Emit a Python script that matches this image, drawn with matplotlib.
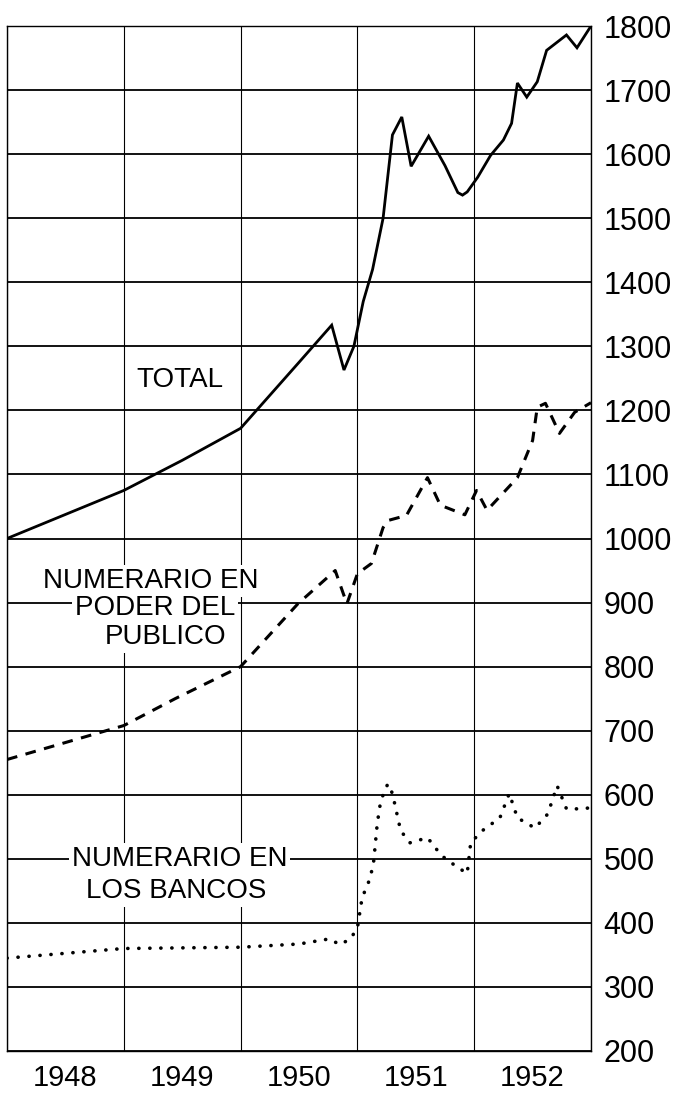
import matplotlib
matplotlib.use("Agg")
import matplotlib.pyplot as plt
from matplotlib.ticker import FixedLocator, NullFormatter, FixedFormatter

# ---- data ----
total_x = [1948.0, 1949.0, 1949.5, 1950.0, 1950.5, 1950.78, 1950.885, 1950.97, 1951.05,
           1951.13, 1951.22, 1951.30, 1951.38, 1951.46, 1951.61, 1951.75, 1951.86, 1951.90,
           1951.94, 1952.03, 1952.14, 1952.25, 1952.32, 1952.37, 1952.45, 1952.54, 1952.62,
           1952.79, 1952.88, 1953.0]
total_y = [1000, 1075, 1122, 1172, 1275, 1333, 1263, 1300, 1370,
           1420, 1500, 1630, 1658, 1581, 1628, 1582, 1540, 1536,
           1541, 1564, 1598, 1622, 1648, 1711, 1689, 1713, 1762,
           1786, 1766, 1800]

pub_x = [1948.0, 1949.0, 1949.44, 1950.0, 1950.49, 1950.81, 1950.91, 1951.0, 1951.12,
         1951.22, 1951.26, 1951.42, 1951.60, 1951.71, 1951.92, 1952.02, 1952.11, 1952.37,
         1952.50, 1952.54, 1952.61, 1952.73, 1952.86, 1953.0]
pub_y = [655, 708, 750, 800, 898, 950, 898, 945, 961,
         1017, 1028, 1036, 1095, 1052, 1037, 1075, 1044, 1095,
         1153, 1205, 1211, 1164, 1197, 1212]

ban_x = [1948.0, 1949.0, 1950.0, 1950.5, 1950.76, 1950.85, 1950.94, 1951.0, 1951.04,
         1951.11, 1951.14, 1951.17, 1951.2, 1951.26, 1951.3, 1951.37, 1951.45, 1951.6,
         1951.72, 1951.84, 1951.94, 1951.97, 1952.07, 1952.22, 1952.30, 1952.37, 1952.52,
         1952.63, 1952.71, 1952.79, 1952.93, 1953.0]
ban_y = [345, 360, 362, 367, 375, 366, 375, 392, 439,
         470, 497, 555, 591, 617, 602, 544, 525, 533,
         505, 489, 477, 525, 544, 564, 602, 564, 548,
         570, 614, 578, 578, 580]

year_labels = ["1948", "1949", "1950", "1951", "1952"]
year_starts = [1948, 1949, 1950, 1951, 1952, 1953]
y_ticks = [200, 300, 400, 500, 600, 700, 800, 900, 1000, 1100, 1200,
           1300, 1400, 1500, 1600, 1700, 1800]

# ---- figure ----
fig = plt.figure(figsize=(6.83, 10.98), dpi=100)
ax = fig.add_axes([7/683, 1 - 1051/1098, (591 - 7)/683, (1051 - 26)/1098])
ax.set_xlim(1948, 1953)
ax.set_ylim(200, 1800)

for v in y_ticks:
    ax.axhline(v, color="black", lw=1.3, zorder=1)
for yr in year_starts:
    ax.axvline(yr, color="black", lw=0.8, zorder=1)

for s in ax.spines.values():
    s.set_linewidth(1.0)

ax.plot(total_x, total_y, color="black", lw=2.0, zorder=3, solid_joinstyle="miter")
ax.plot(pub_x, pub_y, color="black", lw=2.2, linestyle=(0, (3.5, 2.8)), zorder=3)
ax.plot(ban_x, ban_y, color="black", lw=2.6, linestyle=(0, (0.05, 3.0)),
        dash_capstyle="round", zorder=3)

# ticks
ax.yaxis.tick_right()
ax.set_yticks(y_ticks)
ax.set_yticklabels([str(v) for v in y_ticks], family="Liberation Sans", fontsize=22)
ax.tick_params(axis="y", length=0, pad=9)

ax.xaxis.set_major_locator(FixedLocator(year_starts))
ax.xaxis.set_major_formatter(NullFormatter())
ax.xaxis.set_minor_locator(FixedLocator([y + 0.5 for y in year_starts[:-1]]))
ax.xaxis.set_minor_formatter(FixedFormatter(year_labels))
ax.tick_params(axis="x", which="both", length=0)
ax.tick_params(axis="x", which="minor", pad=9)
for lbl in ax.xaxis.get_minorticklabels():
    lbl.set_family("Liberation Sans")
    lbl.set_fontsize(21)

# labels
tkw = dict(family="Liberation Sans", fontsize=20, ha="center", va="center", zorder=4)
box = dict(facecolor="white", edgecolor="none", pad=2)
ax.text(1949.48, 1247, "TOTAL", **tkw)
ax.text(1949.23, 934, "NUMERARIO EN", bbox=box, **tkw)
ax.text(1949.27, 892, "PODER DEL", bbox=box, **tkw)
ax.text(1949.36, 846, "PUBLICO", bbox=box, **tkw)
ax.text(1949.48, 500, "NUMERARIO EN", bbox=box, **tkw)
ax.text(1949.45, 450, "LOS BANCOS", bbox=box, **tkw)

fig.savefig("out.png", dpi=100)
